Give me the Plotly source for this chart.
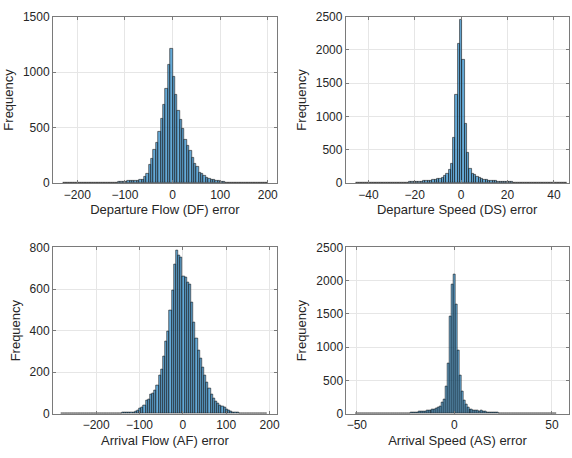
import plotly.graph_objects as go

# ---------------- data (histogram counts) ----------------
# Departure Flow (DF) error: bins of width 5, first bin starts at -230
df_bin_start = -230
df_bin_width = 5
df_counts = [
    1, 0, 1, 1, 0, 1, 1, 1, 2, 1, 2, 2, 2, 3, 3, 3, 4, 5, 5, 6, 7, 7, 8, 9, 10, 12,
    15, 18, 22, 20, 22, 25,
    29, 35, 58, 87, 166, 218, 306, 364, 466, 583, 708, 853, 1063, 1209,
    961, 795, 655, 574, 495, 393, 335, 291, 233, 175, 146, 96, 82, 67, 52, 38, 32, 29, 23,
    20, 15, 12, 8, 6, 5, 4, 3, 3, 2, 2, 1, 1, 1, 1, 0, 1, 0, 1, 0, 1,
]

# Departure Speed (DS) error: bins of width 1, first bin starts at -45.5
ds_bin_start = -45.5
ds_bin_width = 1
ds_counts = [
    1, 0, 1, 1, 1, 1, 2, 1, 2, 2, 2, 3, 3, 3, 3,
    3, 4, 5, 6, 7, 8, 10, 12, 15, 16, 18, 20, 22, 25, 30, 30, 35, 40, 45, 50,
    60, 70, 83, 107, 146, 205, 291, 690, 1330, 2100,
    2460,
    1850, 900, 455, 220, 146, 120, 97, 80, 65, 55,
    48, 42, 38, 35, 32, 28, 25, 22, 20, 18, 16, 15, 14, 12, 11, 10, 8, 6, 5, 4,
    3, 3, 3, 2, 2, 2, 2, 1, 1, 1, 1, 1, 0, 1, 1,
]

# Arrival Flow (AF) error: bins of width 5, first bin starts at -281
af_bin_start = -281
af_bin_width = 5
af_counts = [
    1, 0, 0, 1, 0, 0, 1, 0, 0, 1, 0, 1, 0, 1, 0, 1, 1, 0, 1, 1, 1, 1, 2, 1, 2,
    2, 2, 3, 5, 6, 6, 5, 6, 9, 14, 19, 26, 33, 40, 64, 68, 92, 96, 115, 138,
    185, 216, 278, 348, 398, 495, 595, 717, 785, 762, 752, 660, 655, 630, 620,
    535, 440, 365, 305, 265, 225, 185, 150, 122, 95, 75, 62, 50, 42, 34, 30,
    22, 18, 12, 9, 6, 5, 4, 3, 2, 2, 1, 1, 1, 0, 1, 0, 1, 0, 1,
]

# Arrival Speed (AS) error: bins of width 1, first bin starts at -50.5
as_bin_start = -50.5
as_bin_width = 1
as_counts = [
    1, 0, 1, 0, 1, 1, 0, 1, 1, 1,
    1, 1, 1, 1, 2, 2, 2, 2, 3, 3,
    5, 6, 7, 8, 9, 10, 12, 14, 17, 20, 23, 26, 30, 33, 36, 40, 45, 50, 55, 60,
    65, 75, 92, 117, 165, 214, 405, 755, 1460, 1950,
    2100,
    1640, 955, 575, 335, 200, 140, 92, 70, 60, 55,
    50, 45, 40, 45, 40, 32, 28, 25, 22, 20, 18, 16, 14, 12, 10, 8, 6, 5, 4, 3,
    2, 2, 2, 1, 1, 1, 1, 1, 1, 1, 1, 0, 1, 0, 1, 1, 0, 1, 0, 0, 1, 1,
]

x_titles = ["Departure Flow (DF) error", "Departure Speed (DS) error",
            "Arrival Flow (AF) error", "Arrival Speed (AS) error"]
y_title = "Frequency"

x_ticks = [[-200, -100, 0, 100, 200], [-40, -20, 0, 20, 40],
           [-200, -100, 0, 100, 200], [-50, 0, 50]]
y_ticks = [[0, 500, 1000, 1500], [0, 500, 1000, 1500, 2000, 2500],
           [0, 200, 400, 600, 800], [0, 500, 1000, 1500, 2000, 2500]]

x_ranges = [[-251, 219], [-49.7, 46.3], [-299.5, 216.8], [-55.3, 58.5]]
y_ranges = [[0, 1500], [0, 2500], [0, 800], [0, 2500]]

# ---------------- layout geometry (px in a 572x458 page) ----------------
W, H = 572, 458
boxes = [  # left, right, top, bottom in pixels
    (53.3, 278.3, 10, 181.7),
    (347.7, 571.5, 10, 181.7),
    (53.3, 278.3, 248, 419.7),
    (348.3, 571.5, 248, 419.7),
]

series = [
    (df_bin_start, df_bin_width, df_counts),
    (ds_bin_start, ds_bin_width, ds_counts),
    (af_bin_start, af_bin_width, af_counts),
    (as_bin_start, as_bin_width, as_counts),
]

FONT = "Liberation Sans, Arial, Helvetica, sans-serif"
TXT = "#262626"
AXC = "#7a7a7a"
GRID = "#e6e6e6"

fig = go.Figure()
layout = dict(
    width=W, height=H,
    margin=dict(l=0, r=0, t=0, b=0),
    paper_bgcolor="white", plot_bgcolor="white",
    showlegend=False, bargap=0,
    font=dict(family=FONT, size=12, color=TXT),
)

for i, ((start, width, counts), (l, r, t, b)) in enumerate(zip(series, boxes)):
    n = i + 1
    xa = "x" if n == 1 else f"x{n}"
    ya = "y" if n == 1 else f"y{n}"
    centers = [start + width * (j + 0.5) for j in range(len(counts))]
    fig.add_trace(go.Bar(
        x=centers, y=counts, width=width, xaxis=xa, yaxis=ya,
        marker=dict(color="rgba(0,114,189,0.6)",
                    line=dict(color="#1a1a1a", width=0.6)),
        hoverinfo="x+y",
    ))
    common = dict(
        showline=True, linecolor=AXC, linewidth=1, mirror="ticks",
        ticks="inside", ticklen=3, tickcolor=AXC, tickwidth=1,
        showgrid=True, gridcolor=GRID, gridwidth=1, zeroline=False,
        tickfont=dict(family=FONT, size=12, color=TXT),
    )
    layout["xaxis" if n == 1 else f"xaxis{n}"] = dict(
        common, domain=[l / W, r / W], anchor=ya, range=x_ranges[i],
        tickmode="array", tickvals=x_ticks[i],
        title=dict(text=x_titles[i], font=dict(family=FONT, size=13, color=TXT), standoff=4),
    )
    layout["yaxis" if n == 1 else f"yaxis{n}"] = dict(
        common, domain=[1 - b / H, 1 - t / H], anchor=xa, range=y_ranges[i],
        tickmode="array", tickvals=y_ticks[i],
        title=dict(text=y_title, font=dict(family=FONT, size=13, color=TXT), standoff=6),
    )

fig.update_layout(**layout)
fig.write_html(
    "out.html",
    config={"displayModeBar": False},
    post_script="document.body.style.margin='0';document.body.style.overflow='hidden';",
)
